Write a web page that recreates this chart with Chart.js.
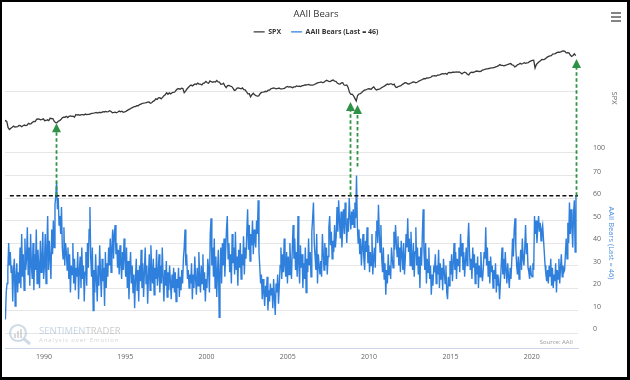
<!DOCTYPE html>
<html><head><meta charset="utf-8">
<script src="https://cdn.jsdelivr.net/npm/chart.js@4.4.1/dist/chart.umd.min.js"></script>
<style>
html,body{margin:0;padding:0;background:#fff;}
#frame{position:relative;width:630px;height:380px;box-sizing:border-box;border-style:solid;border-color:#000;border-width:2px 3px 3px 2px;background:#fff;overflow:hidden;}
canvas{display:block;}
</style></head><body>
<div id="frame"><canvas id="c" width="625" height="375"></canvas></div>
<script>
// ---------- data ----------
const chartTitle = 'AAII Bears';
const spxLabel = 'SPX';
const bearsLabel = 'AAII Bears (Last = 46)';
const xTickYears = [1990, 1995, 2000, 2005, 2010, 2015, 2020];
const bearsTickValues = [0, 10, 20, 30, 40, 50, 60, 70];
const spxTickValues = [100, 1000];
const spxTickLabels = ['100', ''];
const bearsThreshold = 61;
const arrowDates = [1990.74, 2008.81, 2009.24, 2022.70];
const arrowFromBears = [61, 61, 74, 61];
const arrowToSpx = [300, 670, 600, 3450];

// SPX monthly levels, first row starts in July 1987
const spxFirstYear = 1987;
const spxFirstMonth = 6;
const spxMonthly = [
  [318, 330, 320, 252, 236, 247],
  [257, 268, 259, 261, 262, 274, 272, 262, 272, 279, 274, 278],
  [297, 289, 295, 310, 321, 318, 346, 351, 349, 340, 346, 353],
  [329, 332, 340, 331, 361, 358, 356, 323, 306, 304, 322, 330],
  [344, 367, 375, 375, 390, 371, 388, 395, 388, 392, 375, 417],
  [409, 413, 404, 415, 415, 408, 424, 414, 418, 419, 431, 436],
  [439, 443, 452, 440, 450, 451, 448, 464, 459, 468, 462, 466],
  [482, 467, 446, 451, 457, 444, 458, 475, 463, 472, 454, 459],
  [470, 487, 501, 515, 533, 545, 562, 562, 584, 582, 605, 616],
  [636, 640, 646, 654, 669, 671, 640, 652, 687, 705, 757, 741],
  [786, 791, 757, 801, 848, 885, 954, 899, 947, 915, 955, 970],
  [980, 1049, 1102, 1112, 1091, 1134, 1121, 957, 1017, 1099, 1164, 1229],
  [1280, 1238, 1286, 1335, 1302, 1373, 1329, 1320, 1283, 1363, 1389, 1469],
  [1394, 1366, 1499, 1452, 1421, 1455, 1431, 1518, 1437, 1429, 1315, 1320],
  [1366, 1240, 1160, 1249, 1256, 1224, 1211, 1134, 1041, 1060, 1139, 1148],
  [1130, 1107, 1147, 1077, 1067, 990, 912, 916, 815, 886, 936, 880],
  [856, 841, 848, 917, 964, 975, 990, 1008, 996, 1051, 1058, 1112],
  [1131, 1145, 1126, 1107, 1121, 1141, 1102, 1104, 1115, 1130, 1174, 1212],
  [1181, 1204, 1181, 1157, 1192, 1191, 1234, 1220, 1229, 1207, 1249, 1248],
  [1280, 1281, 1295, 1311, 1270, 1270, 1277, 1304, 1336, 1378, 1401, 1418],
  [1438, 1407, 1421, 1482, 1531, 1503, 1455, 1474, 1527, 1549, 1481, 1468],
  [1379, 1331, 1323, 1386, 1400, 1280, 1267, 1283, 1166, 969, 896, 903],
  [850, 770, 700, 860, 910, 920, 960, 1010, 1050, 1060, 1090, 1110],
  [1100, 1090, 1150, 1190, 1100, 1060, 1080, 1090, 1120, 1170, 1200, 1240],
  [1286, 1327, 1300, 1340, 1340, 1290, 1320, 1190, 1160, 1210, 1230, 1250],
  [1300, 1350, 1400, 1390, 1340, 1330, 1370, 1400, 1440, 1430, 1390, 1420],
  [1480, 1515, 1550, 1580, 1640, 1620, 1680, 1670, 1690, 1720, 1790, 1810],
  [1830, 1800, 1860, 1870, 1900, 1950, 1970, 1960, 1990, 1920, 2050, 2060],
  [2030, 2080, 2080, 2090, 2110, 2090, 2100, 2040, 1950, 2040, 2090, 2040],
  [1930, 1880, 2020, 2080, 2060, 2080, 2150, 2180, 2150, 2140, 2150, 2250],
  [2270, 2330, 2370, 2360, 2400, 2430, 2460, 2450, 2500, 2560, 2600, 2670],
  [2780, 2700, 2700, 2650, 2710, 2750, 2800, 2860, 2900, 2760, 2720, 2550],
  [2620, 2760, 2820, 2920, 2850, 2900, 3000, 2920, 2980, 3000, 3120, 3200],
  [3280, 3300, 2450, 2800, 2950, 3100, 3230, 3390, 3360, 3400, 3550, 3700],
  [3800, 3880, 3900, 4150, 4170, 4240, 4380, 4450, 4450, 4500, 4650, 4700],
  [4600, 4350, 4400, 4350, 4000, 3800, 3950, 4200, 3900]
];

// AAII bearish % readings, 20 per year, first row starts at slot 11 of 1987
const bearsFirstYear = 1987;
const bearsFirstSlot = 11;
const bearsPerYear = 20;
const bearsReadings = [
  [10, 6, 18, 22, 28, 40, 30, 36, 27],
  [30, 14, 28, 33, 12, 25, 31, 18, 27, 22, 38, 20, 44, 25, 35, 19, 42, 28, 33, 47],
  [26, 38, 21, 44, 30, 24, 40, 19, 35, 28, 46, 22, 37, 30, 20, 41, 27, 33, 45, 24],
  [30, 44, 22, 38, 52, 28, 41, 33, 24, 46, 35, 50, 38, 57, 61, 67, 55, 60, 48, 52],
  [44, 56, 38, 33, 47, 30, 40, 36, 28, 38, 24, 35, 18, 30, 26, 40, 22, 33, 19, 29],
  [25, 36, 15, 28, 34, 20, 38, 24, 30, 14, 27, 36, 21, 40, 29, 46, 56, 33, 25, 38],
  [10, 28, 18, 35, 24, 14, 30, 21, 39, 26, 16, 33, 23, 29, 12, 36, 20, 31, 25, 38],
  [30, 42, 27, 38, 46, 33, 44, 48, 35, 40, 29, 37, 26, 39, 31, 24, 36, 28, 42, 33],
  [25, 38, 20, 32, 15, 28, 36, 22, 30, 18, 26, 11, 24, 33, 19, 28, 14, 30, 23, 37],
  [20, 31, 16, 27, 38, 22, 30, 13, 25, 35, 19, 39, 28, 22, 33, 17, 29, 24, 37, 21],
  [26, 35, 18, 30, 22, 38, 25, 14, 28, 21, 32, 16, 27, 19, 30, 23, 15, 26, 20, 29],
  [18, 27, 14, 24, 20, 29, 16, 25, 19, 28, 22, 33, 38, 46, 30, 35, 24, 28, 20, 26],
  [22, 31, 15, 26, 20, 34, 24, 17, 29, 21, 36, 25, 18, 30, 22, 35, 19, 27, 14, 24],
  [20, 33, 28, 18, 44, 51, 30, 38, 25, 42, 20, 34, 16, 28, 37, 7, 26, 38, 22, 40],
  [30, 42, 25, 36, 46, 52, 33, 40, 27, 35, 22, 44, 31, 38, 26, 45, 28, 34, 21, 37],
  [29, 40, 24, 35, 30, 43, 26, 38, 33, 45, 55, 37, 48, 32, 44, 39, 50, 35, 46, 41],
  [38, 50, 44, 59, 36, 29, 22, 26, 15, 24, 18, 12, 21, 16, 25, 10, 19, 14, 22, 17],
  [20, 11, 24, 16, 8, 22, 18, 26, 13, 21, 30, 38, 24, 35, 27, 42, 30, 25, 36, 22],
  [34, 26, 40, 30, 24, 38, 48, 33, 42, 28, 36, 25, 52, 30, 22, 39, 29, 35, 20, 31],
  [24, 38, 18, 33, 27, 42, 30, 36, 25, 45, 51, 58, 40, 34, 28, 44, 22, 35, 30, 26],
  [32, 25, 44, 36, 28, 40, 30, 38, 26, 34, 47, 52, 39, 45, 33, 41, 36, 48, 38, 43],
  [56, 45, 59, 50, 42, 54, 38, 47, 55, 44, 58, 49, 40, 51, 45, 60, 52, 46, 54, 48],
  [55, 47, 58, 51, 70, 48, 40, 46, 35, 42, 30, 38, 44, 33, 28, 41, 36, 47, 31, 39],
  [27, 36, 30, 44, 26, 33, 38, 29, 45, 50, 40, 57, 44, 36, 48, 33, 27, 38, 24, 31],
  [17, 28, 22, 35, 26, 30, 24, 38, 33, 29, 45, 37, 48, 40, 34, 43, 30, 38, 27, 41],
  [35, 28, 40, 26, 33, 44, 38, 51, 36, 42, 30, 45, 34, 28, 40, 25, 36, 47, 30, 38],
  [26, 34, 20, 38, 30, 44, 55, 36, 28, 40, 22, 33, 27, 38, 24, 30, 17, 26, 21, 29],
  [28, 35, 22, 30, 26, 37, 20, 31, 24, 29, 19, 33, 27, 22, 30, 18, 15, 25, 21, 32],
  [26, 35, 23, 31, 40, 28, 36, 24, 33, 30, 38, 27, 44, 34, 40, 28, 36, 25, 32, 38],
  [30, 41, 49, 36, 28, 33, 24, 38, 29, 35, 22, 31, 26, 34, 20, 30, 25, 36, 27, 23],
  [29, 36, 33, 47, 30, 38, 25, 32, 22, 34, 27, 30, 20, 28, 24, 31, 18, 26, 21, 23],
  [15, 22, 30, 38, 26, 33, 24, 36, 28, 22, 31, 25, 20, 29, 24, 32, 42, 34, 46, 51],
  [38, 30, 26, 34, 24, 30, 37, 28, 42, 33, 30, 38, 48, 35, 40, 29, 27, 24, 30, 26],
  [25, 31, 28, 52, 44, 50, 40, 47, 52, 45, 49, 41, 46, 48, 42, 36, 30, 26, 23, 28],
  [22, 30, 25, 33, 21, 29, 20, 26, 23, 31, 18, 28, 24, 33, 22, 29, 35, 25, 30, 27],
  [28, 35, 42, 33, 49, 40, 58, 44, 55, 47, 38, 53, 59, 36, 61]
];

// ---------- layout / style constants ----------
const FONT = '"Open Sans", "Noto Sans", sans-serif';
const X_MIN = 1987.6, X_MAX = 2022.85;
const BEARS_ZERO_Y = 331, BEARS_PX_PER_UNIT = 2.25;
const SPX_100_Y = 150, SPX_PX_PER_DECADE = 60.5;
const GRID = '#e6e6e6';

// ---------- build points ----------
const spxPoints = [];
spxMonthly.forEach((row, r) => {
  row.forEach((v, j) => {
    const m = (r === 0 ? spxFirstMonth : 0) + j;
    spxPoints.push({x: spxFirstYear + r + (m + 0.5) / 12, y: v});
  });
});
const bearsPoints = [];
bearsReadings.forEach((row, r) => {
  row.forEach((v, j) => {
    const s = (r === 0 ? bearsFirstSlot : 0) + j;
    bearsPoints.push({x: bearsFirstYear + r + (s + 0.5) / bearsPerYear, y: v});
  });
});

const decor = {
  id: 'decor',
  afterLayout(chart) {
    const by = chart.scales.bears, sy = chart.scales.spx;
    by.min = (BEARS_ZERO_Y - by.bottom) / BEARS_PX_PER_UNIT;
    by.max = (BEARS_ZERO_Y - by.top) / BEARS_PX_PER_UNIT;
    by.configure();
    sy.min = Math.pow(10, 2 + (SPX_100_Y - sy.bottom) / SPX_PX_PER_DECADE);
    sy.max = Math.pow(10, 2 + (SPX_100_Y - sy.top) / SPX_PX_PER_DECADE);
    sy.configure();
  },
  beforeDatasetsDraw(chart) {
    const {ctx, chartArea: a} = chart;
    ctx.save();
    const cx = a.left + 13, cy = a.bottom - 15;
    ctx.strokeStyle = 'rgba(175,195,215,0.6)';
    ctx.lineWidth = 2.2;
    ctx.beginPath(); ctx.arc(cx, cy, 8, 0, Math.PI * 2); ctx.stroke();
    ctx.lineWidth = 3;
    ctx.beginPath(); ctx.moveTo(cx + 6, cy + 6); ctx.lineTo(cx + 12, cy + 11); ctx.stroke();
    ctx.fillStyle = 'rgba(185,185,185,0.55)';
    ctx.fillRect(cx - 4, cy + 1, 2, 4);
    ctx.fillRect(cx - 1, cy - 2, 2, 7);
    ctx.fillRect(cx + 2, cy - 4, 2, 9);
    ctx.font = '9.5px ' + FONT;
    ctx.textBaseline = 'middle'; ctx.textAlign = 'left';
    ctx.fillStyle = 'rgba(150,178,205,0.55)';
    ctx.fillText('SENTIMEN', a.left + 34, a.bottom - 17);
    const w = ctx.measureText('SENTIMEN').width;
    ctx.fillStyle = 'rgba(160,160,160,0.55)';
    ctx.fillText('TRADER', a.left + 34 + w, a.bottom - 17);
    ctx.font = '6px ' + FONT;
    try { ctx.letterSpacing = '0.9px'; } catch (e) {}
    ctx.fillStyle = 'rgba(170,170,170,0.5)';
    ctx.fillText('Analysis over Emotion', a.left + 34, a.bottom - 8);
    ctx.restore();
  },
  afterDatasetsDraw(chart) {
    const {ctx, chartArea: a} = chart;
    const xs = chart.scales.x, by = chart.scales.bears, sy = chart.scales.spx;
    ctx.save();
    // threshold line
    const ty = by.getPixelForValue(bearsThreshold);
    ctx.strokeStyle = '#111'; ctx.lineWidth = 1.4; ctx.setLineDash([4, 2.5]);
    ctx.beginPath(); ctx.moveTo(xs.getPixelForValue(1987.9), ty); ctx.lineTo(a.right, ty); ctx.stroke();
    // arrows
    ctx.strokeStyle = '#2f9145'; ctx.fillStyle = '#2f9145'; ctx.lineWidth = 1.8; ctx.setLineDash([3.5, 2.5]);
    arrowDates.forEach((d, i) => {
      const x = Math.round(xs.getPixelForValue(d)) + 0.5;
      const tip = sy.getPixelForValue(arrowToSpx[i]);
      const base = by.getPixelForValue(arrowFromBears[i]);
      ctx.beginPath(); ctx.moveTo(x, base); ctx.lineTo(x, tip + 8); ctx.stroke();
      ctx.beginPath(); ctx.moveTo(x, tip); ctx.lineTo(x - 4.5, tip + 9); ctx.lineTo(x + 4.5, tip + 9); ctx.closePath(); ctx.fill();
    });
    ctx.setLineDash([]);
    // source
    ctx.font = '6px ' + FONT; ctx.fillStyle = '#999'; ctx.textAlign = 'right'; ctx.textBaseline = 'middle';
    ctx.fillText('Source: AAII', a.right - 5, a.bottom - 6);
    // axis titles
    ctx.font = '7.5px ' + FONT; ctx.textAlign = 'center';
    ctx.save();
    ctx.translate(by.left + 33, by.getPixelForValue(40)); ctx.rotate(Math.PI / 2);
    ctx.fillStyle = '#4d8fdd'; ctx.fillText(bearsLabel, 0, 0);
    ctx.restore();
    ctx.save();
    ctx.translate(sy.left + 36, sy.getPixelForValue(780)); ctx.rotate(Math.PI / 2);
    ctx.fillStyle = '#666'; ctx.fillText(spxLabel, 0, 0);
    ctx.restore();
    // menu icon
    ctx.strokeStyle = '#666'; ctx.lineWidth = 1.6;
    [11, 15, 19].forEach(y => { ctx.beginPath(); ctx.moveTo(chart.width - 16, y); ctx.lineTo(chart.width - 6, y); ctx.stroke(); });
    ctx.restore();
  }
};

const tickFont = {family: FONT, size: 7};
new Chart(document.getElementById('c'), {
  type: 'line',
  data: {
    datasets: [
      {label: spxLabel, data: spxPoints, yAxisID: 'spx', borderColor: '#383838', backgroundColor: '#383838', borderWidth: 1.3, pointRadius: 0, tension: 0},
      {label: bearsLabel, data: bearsPoints, yAxisID: 'bears', borderColor: '#2f7fdc', backgroundColor: '#2f7fdc', borderWidth: 1.4, pointRadius: 0, tension: 0}
    ]
  },
  options: {
    responsive: false,
    animation: false,
    layout: {padding: {left: 3, right: 0, top: 0, bottom: 0}},
    plugins: {
      tooltip: {enabled: false},
      title: {display: true, text: chartTitle, color: '#333', font: {family: FONT, size: 9.5, weight: 'normal'}, padding: {top: 7, bottom: -2}},
      legend: {
        display: true, position: 'top', align: 'center',
        labels: {usePointStyle: true, pointStyle: 'line', pointStyleWidth: 11, boxHeight: 7, padding: 10, color: '#333', font: {family: FONT, size: 7, weight: 'bold'}}
      }
    },
    scales: {
      x: {
        type: 'linear', min: X_MIN, max: X_MAX,
        grid: {display: false, drawTicks: false},
        border: {display: true, color: '#ccd6eb', width: 1},
        afterBuildTicks: s => { s.ticks = xTickYears.map(v => ({value: v})); },
        afterFit: s => { s.height = 29; },
        ticks: {autoSkip: false, maxRotation: 0, padding: 5, color: '#666', font: tickFont, callback: v => String(v)}
      },
      spx: {
        type: 'logarithmic', position: 'right', stack: 'panes', stackWeight: 1, min: 50, max: 8000,
        grid: {color: GRID, drawTicks: false}, border: {display: false},
        afterBuildTicks: s => { s.ticks = spxTickValues.map(v => ({value: v})); },
        afterFit: s => { s.width = 49; },
        ticks: {autoSkip: false, padding: 15, labelOffset: -4, color: '#666', font: tickFont, callback: (v, i) => spxTickLabels[i]}
      },
      bears: {
        type: 'linear', position: 'right', stack: 'panes', stackWeight: 1.6, min: -7, max: 77,
        grid: {color: GRID, drawTicks: false}, border: {display: false},
        afterBuildTicks: s => { s.ticks = bearsTickValues.map(v => ({value: v})); },
        afterFit: s => { s.width = 49; },
        ticks: {autoSkip: false, padding: 15, labelOffset: -4, color: '#666', font: tickFont, callback: v => String(v)}
      }
    }
  },
  plugins: [decor]
});
</script>
</body></html>
